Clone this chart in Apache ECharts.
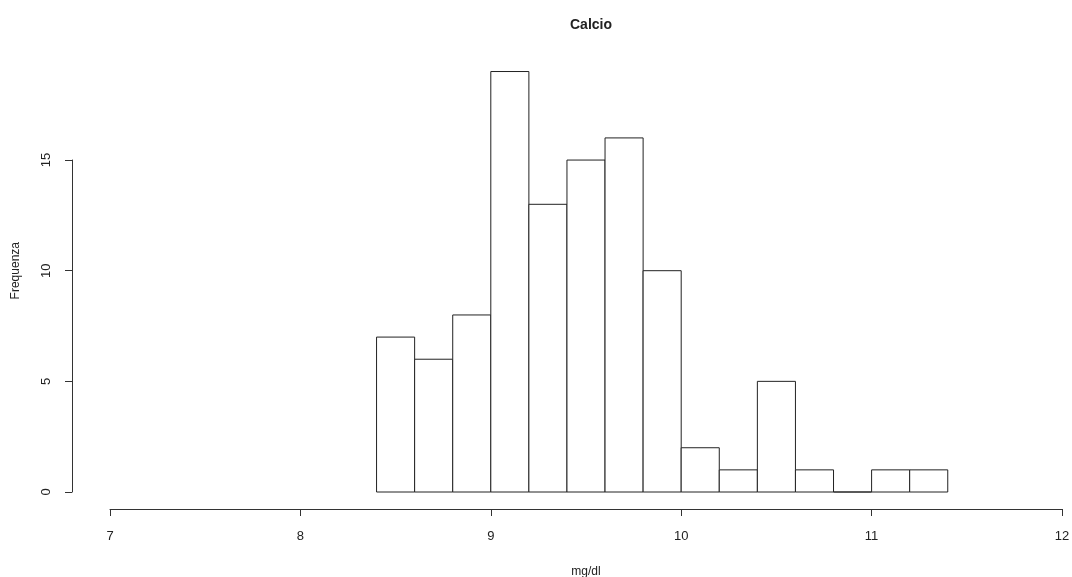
<!DOCTYPE html>
<html>
<head>
<meta charset="utf-8">
<script src="https://cdn.jsdelivr.net/npm/echarts@6/dist/echarts.min.js"></script>
<style>html,body{margin:0;padding:0;background:#fff;}#c{width:1072px;height:577px;}</style>
</head>
<body>
<div id="c"></div>
<script>
const title = 'Calcio';
const xLabel = 'mg/dl';
const yLabel = 'Frequenza';
const binEdges = [8.4, 8.6, 8.8, 9.0, 9.2, 9.4, 9.6, 9.8, 10.0, 10.2, 10.4, 10.6, 10.8, 11.0, 11.2, 11.4];
const counts = [7, 6, 8, 19, 13, 15, 16, 10, 2, 1, 5, 1, 0, 1, 1];
const xTicks = [7, 8, 9, 10, 11, 12];
const yTicks = [0, 5, 10, 15];

const data = counts.map((c, i) => [binEdges[i], binEdges[i + 1], c]);
const font = 'Liberation Sans, Arial, Helvetica, sans-serif';

const chart = echarts.init(document.getElementById('c'), null, {renderer: 'canvas'});
chart.setOption({
  animation: false,
  backgroundColor: '#fff',
  textStyle: {fontFamily: font},
  title: {
    text: title, left: 586, top: 13, textAlign: 'center',
    textStyle: {fontSize: 14, fontWeight: 'bold', color: '#222', fontFamily: font}
  },
  grid: [
    {left: 110, right: 10, top: 49.4, bottom: 85, containLabel: false, outerBoundsMode: 'none'},
    {left: 110, right: 10, top: 160, bottom: 85, containLabel: false, outerBoundsMode: 'none'}
  ],
  xAxis: [
    {
      gridIndex: 0, type: 'value', min: xTicks[0], max: xTicks[xTicks.length - 1], interval: 1,
      offset: 17,
      axisLine: {show: true, onZero: false, lineStyle: {color: '#333', width: 1}},
      axisTick: {show: true, inside: false, length: 7, lineStyle: {color: '#333'}},
      axisLabel: {show: true, margin: 21, fontSize: 13, color: '#222', fontFamily: font},
      splitLine: {show: false},
      name: xLabel, nameLocation: 'middle', nameGap: 57,
      nameTextStyle: {fontSize: 12, color: '#222', fontFamily: font}
    },
    {
      gridIndex: 1, type: 'value', min: xTicks[0], max: xTicks[xTicks.length - 1], show: false
    }
  ],
  yAxis: [
    {
      gridIndex: 0, type: 'value', min: 0, max: 20,
      axisLine: {show: false, onZero: false}, axisTick: {show: false}, axisLabel: {show: false}, splitLine: {show: false},
      name: yLabel, nameLocation: 'middle', nameGap: 88, nameRotate: 90,
      nameTextStyle: {fontSize: 12, color: '#222', fontFamily: font}
    },
    {
      gridIndex: 1, type: 'value', min: yTicks[0], max: yTicks[yTicks.length - 1], interval: 5,
      offset: 38,
      axisLine: {show: true, onZero: false, lineStyle: {color: '#333', width: 1}},
      axisTick: {show: true, inside: false, length: 7, lineStyle: {color: '#333'}},
      axisLabel: {show: true, rotate: 90, margin: 19, fontSize: 13, color: '#222', fontFamily: font},
      splitLine: {show: false}
    }
  ],
  series: [{
    type: 'custom',
    xAxisIndex: 0, yAxisIndex: 0,
    data: data,
    encode: {x: [0, 1], y: 2},
    renderItem: function (params, api) {
      const p0 = api.coord([api.value(0), api.value(2)]);
      const p1 = api.coord([api.value(1), 0]);
      return {
        type: 'rect',
        shape: {x: p0[0], y: p0[1], width: p1[0] - p0[0], height: p1[1] - p0[1]},
        style: {fill: '#fff', stroke: '#222', lineWidth: 1}
      };
    }
  }]
});
</script>
</body>
</html>
